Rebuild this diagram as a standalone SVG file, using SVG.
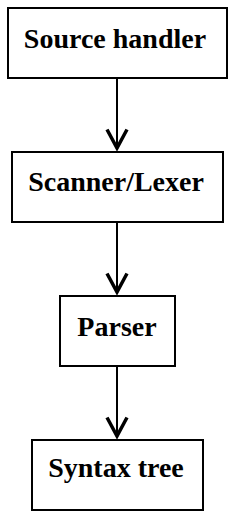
<svg xmlns="http://www.w3.org/2000/svg" width="234" height="518" viewBox="0 0 234 518">
<style>
.box{fill:#fff;stroke:#000;stroke-width:2}
.lbl{font-family:"Liberation Serif","Times New Roman",serif;font-weight:bold;font-size:28px;fill:#000;text-anchor:middle}
.edge{stroke:#000;stroke-width:2;fill:none;marker-end:url(#arr)}
</style>
<defs>
<marker id="arr" markerUnits="userSpaceOnUse" markerWidth="26" markerHeight="26" viewBox="0 0 26 26" refX="22" refY="13" orient="auto">
<path d="M1,3 L20,13 L1,23 L3,13 Z" fill="none" stroke="none"/>
<path d="M1.5,3 L20,13 L1.5,23" fill="none" stroke="#000" stroke-width="3.5" stroke-linejoin="miter"/>
</marker>
</defs>
<rect width="234" height="518" fill="#fff"/>
<g id="connectors">
<line class="edge" x1="117" y1="79" x2="117" y2="150"/>
<line class="edge" x1="117" y1="223" x2="117" y2="294"/>
<line class="edge" x1="117" y1="367" x2="117" y2="438"/>
</g>
<g id="source-handler">
<rect class="box" x="8" y="8" width="219" height="70"/>
<text class="lbl" x="115" y="48">Source handler</text>
</g>
<g id="scanner-lexer">
<rect class="box" x="12" y="152" width="211" height="70"/>
<text class="lbl" x="116" y="191">Scanner/Lexer</text>
</g>
<g id="parser">
<rect class="box" x="60" y="296" width="115" height="70"/>
<text class="lbl" x="117" y="336">Parser</text>
</g>
<g id="syntax-tree">
<rect class="box" x="32" y="440" width="171" height="70"/>
<text class="lbl" x="116" y="477">Syntax tree</text>
</g>
</svg>
